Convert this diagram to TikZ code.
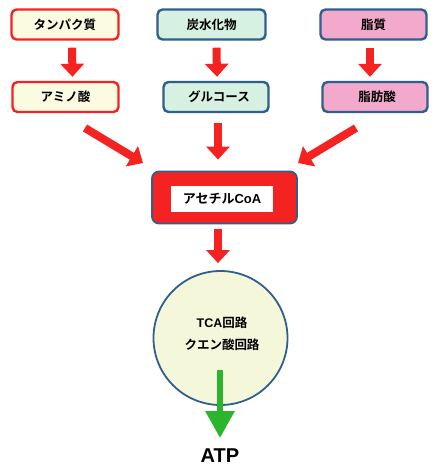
\documentclass[tikz,border=0pt]{standalone}
\usepackage{fontspec}
\setmainfont{Liberation Sans}
\newfontfamily\jp{Noto Sans CJK JP}[BoldFont={Noto Sans CJK JP Bold}]
\usetikzlibrary{arrows.meta}
\definecolor{bred}{HTML}{F52222}
\definecolor{bblue}{HTML}{2F5F8F}
\definecolor{fyel}{HTML}{FAFBE1}
\definecolor{fgrn}{HTML}{D6F0E1}
\definecolor{fpnk}{HTML}{F2A9CB}
\definecolor{fcirc}{HTML}{F4F7DA}
\definecolor{garr}{HTML}{2CB52C}
\tikzset{
  x=1pt,y=-1pt,
  box/.style={draw,line width=2.4pt,rounded corners=5pt,minimum height=30pt,inner sep=0pt,font=\jp\bfseries\fontsize{12.5}{14}\selectfont},
  redbox/.style={box,draw=bred,fill=fyel},
  grnbox/.style={box,draw=bblue,fill=fgrn},
  pnkbox/.style={box,draw=bblue,fill=fpnk},
  redarrow/.style={draw=bred,line width=8pt,-{Triangle[width=23pt,length=13pt]}},
  greenarrow/.style={draw=garr,line width=6pt,-{Triangle[width=28pt,length=27pt]}}
}
\begin{document}
\begin{tikzpicture}
\useasboundingbox (0,0) rectangle (439,475);
\fill[white] (0,0) rectangle (439,475);
% top row
\node[redbox,minimum width=107pt] (tl) at (65,24.5) {タンパク質};
\node[grnbox,minimum width=108pt] (tm) at (211.5,24.5) {炭水化物};
\node[pnkbox,minimum width=106pt] (tr) at (373.5,24.5) {脂質};
% second row
\node[redbox,minimum width=106pt] (ml) at (65.5,97) {アミノ酸};
\node[grnbox,minimum width=105pt] (mm) at (216,97) {\hspace{6pt}グルコース};
\node[pnkbox,minimum width=105pt] (mr) at (375,97) {\hspace{4pt}脂肪酸};
% acetyl CoA
\node[draw=bblue,line width=1.8pt,fill=bred,rounded corners=7pt,minimum width=145pt,minimum height=52pt] (ac) at (224.5,197.5) {};
\node[fill=white,minimum width=102pt,minimum height=26pt,inner sep=0pt,font=\bfseries\fontsize{13}{15}\selectfont] (act) at (222,199) {{\jp アセチル}CoA};
% circle
\node[circle,draw=bblue,line width=1.8pt,fill=fcirc,minimum size=134pt] (tca) at (220.5,338) {};
\node[align=center,font=\bfseries\fontsize{12.5}{22}\selectfont] (tcat) at (222,334) {TCA{\jp 回路}\\{\jp クエン酸回路}};
\node[font=\bfseries\fontsize{20}{22}\selectfont] (atp) at (220,456) {ATP};
% arrows
\draw[redarrow] ([xshift=7pt,yshift=-7pt]tl.south) -- ([xshift=7pt,yshift=4pt]ml.north);
\draw[redarrow] ([xshift=5pt,yshift=-7pt]tm.south) -- ([xshift=1pt,yshift=4pt]mm.north);
\draw[redarrow] ([xshift=-3.5pt,yshift=-7pt]tr.south) -- ([xshift=-5pt,yshift=4pt]mr.north);
\coordinate (lstart) at (85,128);
\coordinate (ltip) at (143,163);
\coordinate (rstart) at (356,128);
\coordinate (rtip) at (298,163);
\draw[redarrow] (lstart) -- (ltip);
\draw[redarrow] (rstart) -- (rtip);
\draw[redarrow] ([xshift=2pt,yshift=-10pt]mm.south) -- ([xshift=-6.5pt,yshift=11pt]ac.north);
\draw[redarrow] ([xshift=-6.5pt,yshift=-5pt]ac.south) -- ([xshift=-2.5pt,yshift=7pt]tca.north);
\coordinate (gstart) at (220,370);
\coordinate (gtip) at (220,438);
\draw[greenarrow] (gstart) -- (gtip);
\end{tikzpicture}
\end{document}
